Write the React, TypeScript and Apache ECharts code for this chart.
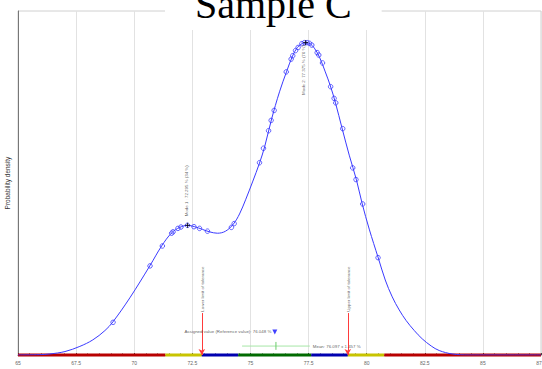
import React, { useEffect, useRef } from "react";
import * as echarts from "echarts";

// ---- data ----
const curveX = [65, 65.94, 66.37, 67.02, 67.66, 68.22, 68.74, 69.08, 69.81, 70.67, 71.18, 71.61, 71.96, 72.3, 72.6, 72.94, 73.24, 73.58, 73.93, 74.27, 74.53, 74.79, 75.09, 75.39, 75.61, 75.91, 76.25, 76.55, 76.81, 77.02, 77.24, 77.41, 77.58, 77.75, 77.97, 78.22, 78.44, 78.65, 78.95, 79.25, 79.56, 79.81, 80.11, 80.5, 80.8, 81.1, 81.4, 81.7, 82.05, 82.39, 82.78, 83.12, 83.68, 84.41, 87.5];
const curveY = [0, 0.001, 0.003, 0.01, 0.025, 0.044, 0.071, 0.096, 0.166, 0.259, 0.317, 0.355, 0.371, 0.377, 0.373, 0.365, 0.358, 0.354, 0.36, 0.381, 0.41, 0.451, 0.503, 0.558, 0.605, 0.686, 0.765, 0.823, 0.869, 0.894, 0.906, 0.908, 0.904, 0.892, 0.866, 0.823, 0.782, 0.735, 0.657, 0.581, 0.509, 0.439, 0.366, 0.282, 0.218, 0.169, 0.131, 0.1, 0.071, 0.047, 0.026, 0.013, 0.003, 0, 0];
const resultX = [69.09, 70.68, 71.21, 71.61, 71.67, 71.88, 72.01, 72.29, 72.57, 72.81, 73.15, 74.18, 74.3, 75.39, 75.56, 75.78, 75.89, 76.02, 76.54, 76.75, 76.82, 76.94, 77.05, 77.21, 77.32, 77.44, 77.54, 77.64, 77.87, 77.94, 78.1, 78.45, 78.6, 78.67, 78.97, 79.4, 79.54, 79.83, 80.49];
const resultY = [0.095, 0.259, 0.317, 0.354, 0.358, 0.368, 0.372, 0.377, 0.373, 0.368, 0.36, 0.371, 0.382, 0.559, 0.601, 0.652, 0.682, 0.711, 0.823, 0.86, 0.87, 0.885, 0.894, 0.905, 0.908, 0.908, 0.906, 0.901, 0.879, 0.872, 0.849, 0.78, 0.746, 0.733, 0.658, 0.544, 0.51, 0.439, 0.283];
const modeX = [72.295, 77.375];
const modeY = [0.377, 0.908];
const modeLabels = ["Mode 1 : 72.295 % (34 %)", "Mode 2: 77.375 % (76 %)"];
const assignedValue = 76.048;
const meanValue = 76.097;
const meanSd = 1.457;
const toleranceLimits = [72.908, 79.188];
const toleranceLabels = ["Lower limit of tolerance", "Upper limit of tolerance"];
const zoneEdges = [65, 71.34, 72.908, 74.478, 77.618, 79.188, 80.758, 87.5];
const zoneColors = ["#b80000", "#c8c400", "#0000b0", "#006a00", "#0000b0", "#c8c400", "#b80000"];
const xTicks = { min: 65, max: 87.5, interval: 2.5 };

// annotation heights (density units of the plot)
const limitTop = 0.122;
const assignedY = 0.067;
const meanY = 0.026;
const meanTick = [0.038, 0.015];

const FONT = "Liberation Sans";

export default function App() {
  const ref = useRef<HTMLDivElement>(null);
  useEffect(() => {
    if (!ref.current) return;
    const chart = echarts.init(ref.current, undefined, { renderer: "svg" });
    const small = { fontFamily: FONT, fontSize: 4.4, color: "#333" };

    const zoneSeries = zoneColors.map((c, i) => ({
      type: "line",
      data: [[zoneEdges[i], 0], [zoneEdges[i + 1], 0]],
      symbol: "none",
      clip: false,
      silent: true,
      z: 3,
      lineStyle: { color: c, width: 3 },
    }));

    const option: any = {
      animation: false,
      backgroundColor: "#fff",
      title: {
        text: "Sample C",
        left: 165,
        top: -16,
        padding: [0, 30, 6, 30],
        backgroundColor: "#fff",
        textStyle: { fontFamily: "Liberation Serif", fontSize: 40, fontWeight: "normal", color: "#000", lineHeight: 40 },
        z: 10,
      },
      grid: { left: 18, right: 1, top: 11, bottom: 14, show: true, borderColor: "#d0d0d0", borderWidth: 1, outerBoundsMode: "none", containLabel: false },
      xAxis: {
        type: "value",
        min: xTicks.min,
        max: xTicks.max,
        interval: xTicks.interval,
        name: "%",
        nameLocation: "middle",
        nameGap: 11,
        nameTextStyle: { fontFamily: FONT, fontSize: 5, color: "#555" },
        axisLine: { show: true, onZero: false, lineStyle: { color: "#666" } },
        axisTick: { show: true, inside: true, length: 2, lineStyle: { color: "#444" } },
        minorTick: { show: true, splitNumber: 5, length: 1.5, lineStyle: { color: "#444" } },
        axisLabel: { fontFamily: FONT, fontSize: 5, color: "#666", margin: 5 },
        splitLine: { show: true, lineStyle: { color: "#e2e2e2" } },
      },
      yAxis: {
        type: "value",
        min: 0,
        max: 1,
        name: "Probability density",
        nameLocation: "middle",
        nameGap: 7,
        nameTextStyle: { fontFamily: FONT, fontSize: 6.5, color: "#333" },
        axisLine: { show: true, lineStyle: { color: "#777" } },
        axisTick: { show: false },
        axisLabel: { show: false },
        splitLine: { show: false },
      },
      series: [
        ...zoneSeries,
        {
          type: "line",
          data: curveX.map((x, i) => [x, curveY[i]]),
          smooth: 0.35,
          symbol: "none",
          z: 5,
          lineStyle: { color: "#3a3aff", width: 1 },
        },
        {
          type: "scatter",
          data: resultX.map((x, i) => [x, resultY[i]]),
          symbol: "circle",
          symbolSize: 4.5,
          z: 6,
          itemStyle: { color: "rgba(255,255,255,0)", borderColor: "#3a3aff", borderWidth: 1 },
        },
        {
          type: "scatter",
          symbol: "path://M0,5L10,5M5,0L5,10",
          symbolSize: 5,
          z: 7,
          itemStyle: { color: "none", borderColor: "#000", borderWidth: 1 },
          data: [
            {
              value: [modeX[0], modeY[0]],
              label: { show: true, formatter: modeLabels[0], position: [3.5, -4], rotate: 90, align: "left", verticalAlign: "middle", ...small },
            },
            {
              value: [modeX[1], modeY[1]],
              label: { show: true, formatter: modeLabels[1], position: [3, 7.5], rotate: 90, align: "right", verticalAlign: "middle", ...small },
            },
          ],
        },
        // tolerance arrows
        {
          type: "line",
          data: [],
          symbol: "none",
          markLine: {
            silent: true,
            symbol: ["none", "arrow"],
            symbolSize: [5, 6],
            label: { show: false },
            lineStyle: { color: "#ff3b3b", width: 1, type: "solid" },
            data: toleranceLimits.map((x) => [{ coord: [x, limitTop] }, { coord: [x, 0] }]),
          },
          z: 6,
        },
        {
          type: "scatter",
          symbolSize: 0,
          z: 7,
          data: toleranceLimits.map((x, i) => ({
            value: [x, limitTop + 0.004],
            label: { show: true, formatter: toleranceLabels[i], position: [0.5, 0], rotate: 90, align: "left", verticalAlign: "middle", ...small },
          })),
        },
        // assigned value
        {
          type: "scatter",
          symbol: "triangle",
          symbolRotate: 180,
          symbolSize: 5,
          z: 7,
          itemStyle: { color: "#1010ff" },
          data: [
            {
              value: [assignedValue, assignedY],
              label: { show: true, position: "left", distance: 1, formatter: `Assigned value (Reference value): ${assignedValue.toFixed(3)} %`, ...small },
            },
          ],
        },
        // mean ± sd
        {
          type: "line",
          data: [[meanValue - meanSd, meanY], [meanValue + meanSd, meanY]],
          symbol: "none",
          z: 6,
          lineStyle: { color: "#a6e6a6", width: 1 },
        },
        {
          type: "line",
          data: [[meanValue, meanTick[0]], [meanValue, meanTick[1]]],
          symbol: "none",
          z: 6,
          lineStyle: { color: "#6ccc6c", width: 1 },
        },
        {
          type: "scatter",
          symbolSize: 0,
          z: 7,
          data: [
            {
              value: [meanValue + meanSd, meanY],
              label: { show: true, position: "right", distance: 3, formatter: `Mean: ${meanValue.toFixed(3)} ± ${meanSd.toFixed(3)} %`, ...small },
            },
          ],
        },
      ],
    };
    chart.setOption(option);
    return () => chart.dispose();
  }, []);
  return <div ref={ref} style={{ position: "fixed", left: 0, top: 0, width: 542, height: 369 }} />;
}
